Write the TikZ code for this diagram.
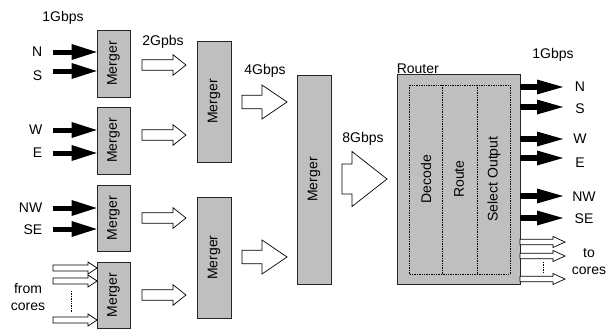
\documentclass[tikz,border=0pt]{standalone}
\usepackage{fontspec}
\setmainfont{Liberation Sans}
\usepackage{graphicx}
\usetikzlibrary{arrows.meta}

\begin{document}
\begin{tikzpicture}[
    x=1pt, y=-1pt,
    lbl/.style={font=\fontsize{14}{16}\selectfont, inner sep=0pt},
    merger/.style={draw=black!85, fill=black!25, line width=0.8pt, inner sep=0pt,
        font=\fontsize{14}{16}\selectfont},
    hollow/.style={draw=black, fill=white, line width=0.7pt, line join=miter},
    inarr/.style={line width=5pt, -{Triangle[length=25pt, width=16pt, line width=0pt]}},
    outarr/.style={line width=5.5pt, -{Triangle[length=26pt, width=15pt, line width=0pt]}},
    dotline/.style={line width=0.6pt, dash pattern=on 1.4pt off 1pt},
]
\useasboundingbox (0,0) rectangle (610,332);

% --- Merger tree ---
\node[merger, minimum width=33pt, minimum height=67pt] (m1) at (113.5,63.5) {\rotatebox{90}{Merger}};
\node[merger, minimum width=33pt, minimum height=67pt] (m2) at (113.5,140.5) {\rotatebox{90}{Merger}};
\node[merger, minimum width=33pt, minimum height=66pt] (m3) at (113.5,218) {\rotatebox{90}{Merger}};
\node[merger, minimum width=33pt, minimum height=66pt] (m4) at (113.5,295) {\rotatebox{90}{Merger}};
\node[merger, minimum width=34pt, minimum height=121pt] (m5) at (214,101.5) {\rotatebox{90}{Merger}};
\node[merger, minimum width=34pt, minimum height=121pt] (m6) at (214,257.5) {\rotatebox{90}{Merger}};
\node[merger, minimum width=34pt, minimum height=209pt] (m7) at (314,179.5) {\rotatebox{90}{Merger}};

% --- Router ---
\node[merger, minimum width=123pt, minimum height=210pt] (rt) at (458.5,179) {};
\node[lbl, anchor=south west] (rtlbl) at (rt.north west) {Router};
\draw[dotline] (409,85) rectangle (510,274);
\draw[dotline] (442,85) -- (442,274);
\draw[dotline] (477,85) -- (477,274);
\node[lbl, rotate=90] (dec) at (426,179) {Decode};
\node[lbl, rotate=90] (rte) at (459,179) {Route};
\node[lbl, rotate=90] (sel) at (494,179) {Select Output};

% --- Input links ---
\foreach \nm/\yy/\ly/\bx in {N/52/52/m1, S/71/76/m1, W/130/130/m2, E/153/153/m2, NW/208/208/m3, SE/229/230/m3} {
    \coordinate (in\nm) at (53,\yy);
    \draw[inarr] (in\nm) -- (in\nm -| \bx.west);
    \node[lbl, anchor=east] (i\nm) at (42.5,\ly) {\nm};
}
\node[lbl] (i1g) at (63,18) {1Gbps};

% --- Output links ---
\foreach \nm/\yy/\lx/\ly in {N/87/580/87, S/107/580/109, W/139/580/139, E/158/580/163, NW/196/584/197, SE/218/584/219} {
    \coordinate (out\nm) at (563,\yy);
    \draw[outarr] (out\nm -| rt.east) -- (out\nm);
    \node[lbl] (o\nm) at (\lx,\ly) {\nm};
}
\node[lbl] (o1g) at (553,55) {1Gbps};

% --- Hollow arrows: x0/xh/x1/y/shaft/head ---
\foreach \xa/\xh/\xb/\yc/\sh/\hh in {
    142/173/186/65/5.3/10.3, 142/173/186/135/5.3/10.3,
    142/173/186/218/5.3/10.3, 142/173/186/295/5.3/10.3,
    242/262/287/102/6.7/17, 242/262/287/257/6.7/17,
    342/352/387/179/15/27.5,
    53/88/97/268/3/6, 53/88/97/281/3/6, 53/88/97/320/3/6,
    520/553/565/242/2.8/5.5, 520/553/565/256/2.8/5.5, 520/553/565/279/2.8/5.5} {
    \draw[hollow] (\xa,\yc-\sh) -- (\xh,\yc-\sh) -- (\xh,\yc-\hh) -- (\xb,\yc)
        -- (\xh,\yc+\hh) -- (\xh,\yc+\sh) -- (\xa,\yc+\sh) -- cycle;
}
\draw[dotline] (71,291) -- (71,312);
\draw[dotline] (543,262) -- (543,273);

% --- Rates and core labels ---
\node[lbl] (r2g) at (163,42) {2Gpbs};
\node[lbl] (r4g) at (265,71) {4Gbps};
\node[lbl] (r8g) at (363,139) {8Gbps};
\node[lbl] (fc1) at (28,288) {from};
\node[lbl] (fc2) at (28,307) {cores};
\node[lbl] (tc1) at (589,253) {to};
\node[lbl] (tc2) at (589,271) {cores};

\end{tikzpicture}
\end{document}
